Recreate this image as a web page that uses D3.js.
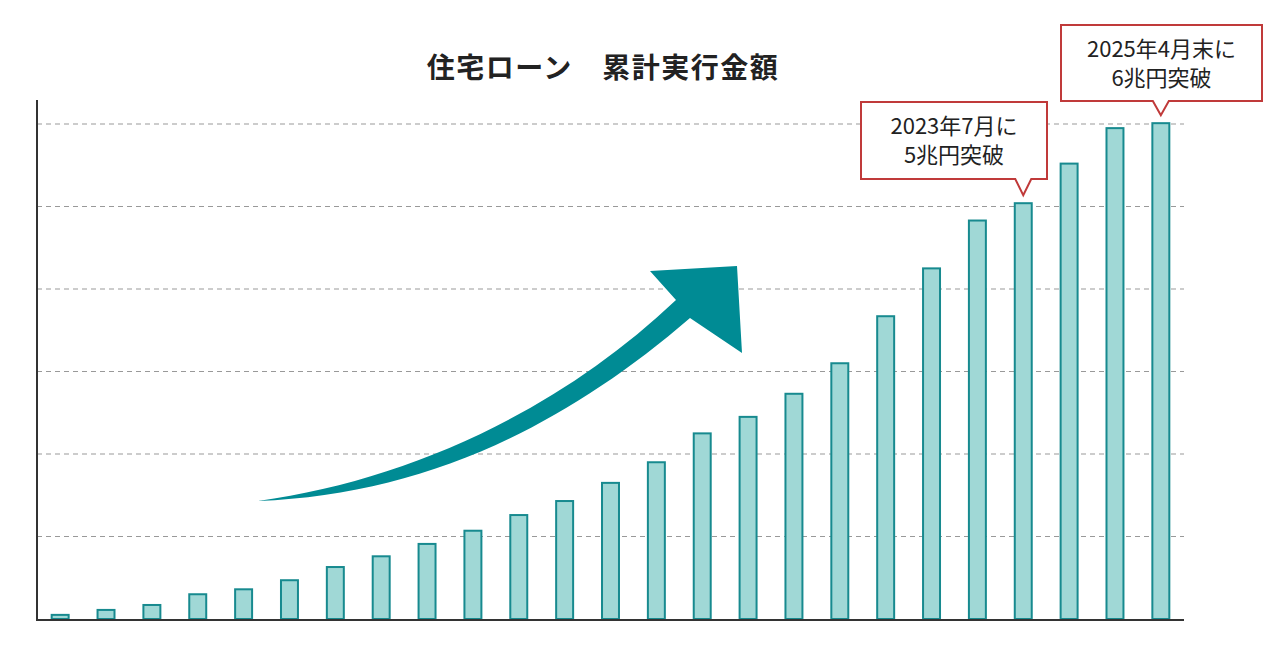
<!DOCTYPE html><html><head><meta charset="utf-8">
<script src="https://cdn.jsdelivr.net/npm/d3@7"></script>
<style>body{margin:0;background:#fff}svg{font-family:"Noto Sans CJK JP","Noto Sans",sans-serif}</style></head><body>
<svg id="c" width="1276" height="646"></svg>
<script>
const categories = d3.range(1,26).map(i=>"p"+i);
const values = [0.05,0.11,0.17,0.30,0.36,0.47,0.63,0.76,0.91,1.07,1.26,1.43,1.65,1.90,2.25,2.45,2.73,3.10,3.67,4.25,4.83,5.04,5.52,5.95,6.01];
const gridTicks = [1,2,3,4,5,6];
const title = "住宅ローン　累計実行金額";
const callouts = [
  {idx:21, lines:["2023年7月に","5兆円突破"]},
  {idx:24, lines:["2025年4月末に","6兆円突破"]}
];
const svg = d3.select("#c");
const x = d3.scaleBand().domain(categories).range([37,1184]).paddingInner(0.63).paddingOuter(0.32);
const y = d3.scaleLinear().domain([0,6]).range([619,124]);
svg.append("g").selectAll("line").data(gridTicks).join("line")
  .attr("x1",37).attr("x2",1184).attr("y1",d=>y(d)).attr("y2",d=>y(d))
  .attr("stroke","#999").attr("stroke-dasharray","5,4").attr("stroke-width",1);
svg.append("g").selectAll("rect").data(values).join("rect")
  .attr("x",(d,i)=>x(categories[i])).attr("width",x.bandwidth())
  .attr("y",d=>y(d)).attr("height",d=>y(0)-y(d))
  .attr("fill","#a0d8d6").attr("stroke","#178a8f").attr("stroke-width",2);
svg.append("line").attr("x1",37).attr("x2",37).attr("y1",100).attr("y2",620).attr("stroke","#333").attr("stroke-width",2);
svg.append("line").attr("x1",36).attr("x2",1184).attr("y1",620).attr("y2",620).attr("stroke","#333").attr("stroke-width",2);
svg.append("text").attr("x",603).attr("y",78).attr("text-anchor","middle").attr("font-size",28).attr("letter-spacing",1.5).attr("font-weight",700).attr("fill","#222").text(title);
// arrow
svg.append("path").attr("fill","#008b94")
  .attr("d","M258,501 C420,495 560,430 690,318 L742,353 L737,266 L650,271 L676,300 C560,410 410,480 258,501 Z");
// callouts
const boxes=[{x0:861,y0:102,w:186,h:77},{x0:1061,y0:25,w:201,h:76}];
callouts.forEach((c,k)=>{
  const b=boxes[k]; const px=x(categories[c.idx])+x.bandwidth()/2;
  const bot=b.y0+b.h;
  svg.append("path").attr("fill","#fff").attr("stroke","#c03a3a").attr("stroke-width",2)
   .attr("d",`M${b.x0},${b.y0}H${b.x0+b.w}V${bot}H${px+8}L${px},${y(values[c.idx])-8}L${px-8},${bot}H${b.x0}Z`);
  c.lines.forEach((t,j)=>svg.append("text").attr("x",b.x0+b.w/2).attr("y",b.y0+32+j*29)
    .attr("text-anchor","middle").attr("font-size",22).attr("fill","#222").text(t));
});
</script></body></html>
